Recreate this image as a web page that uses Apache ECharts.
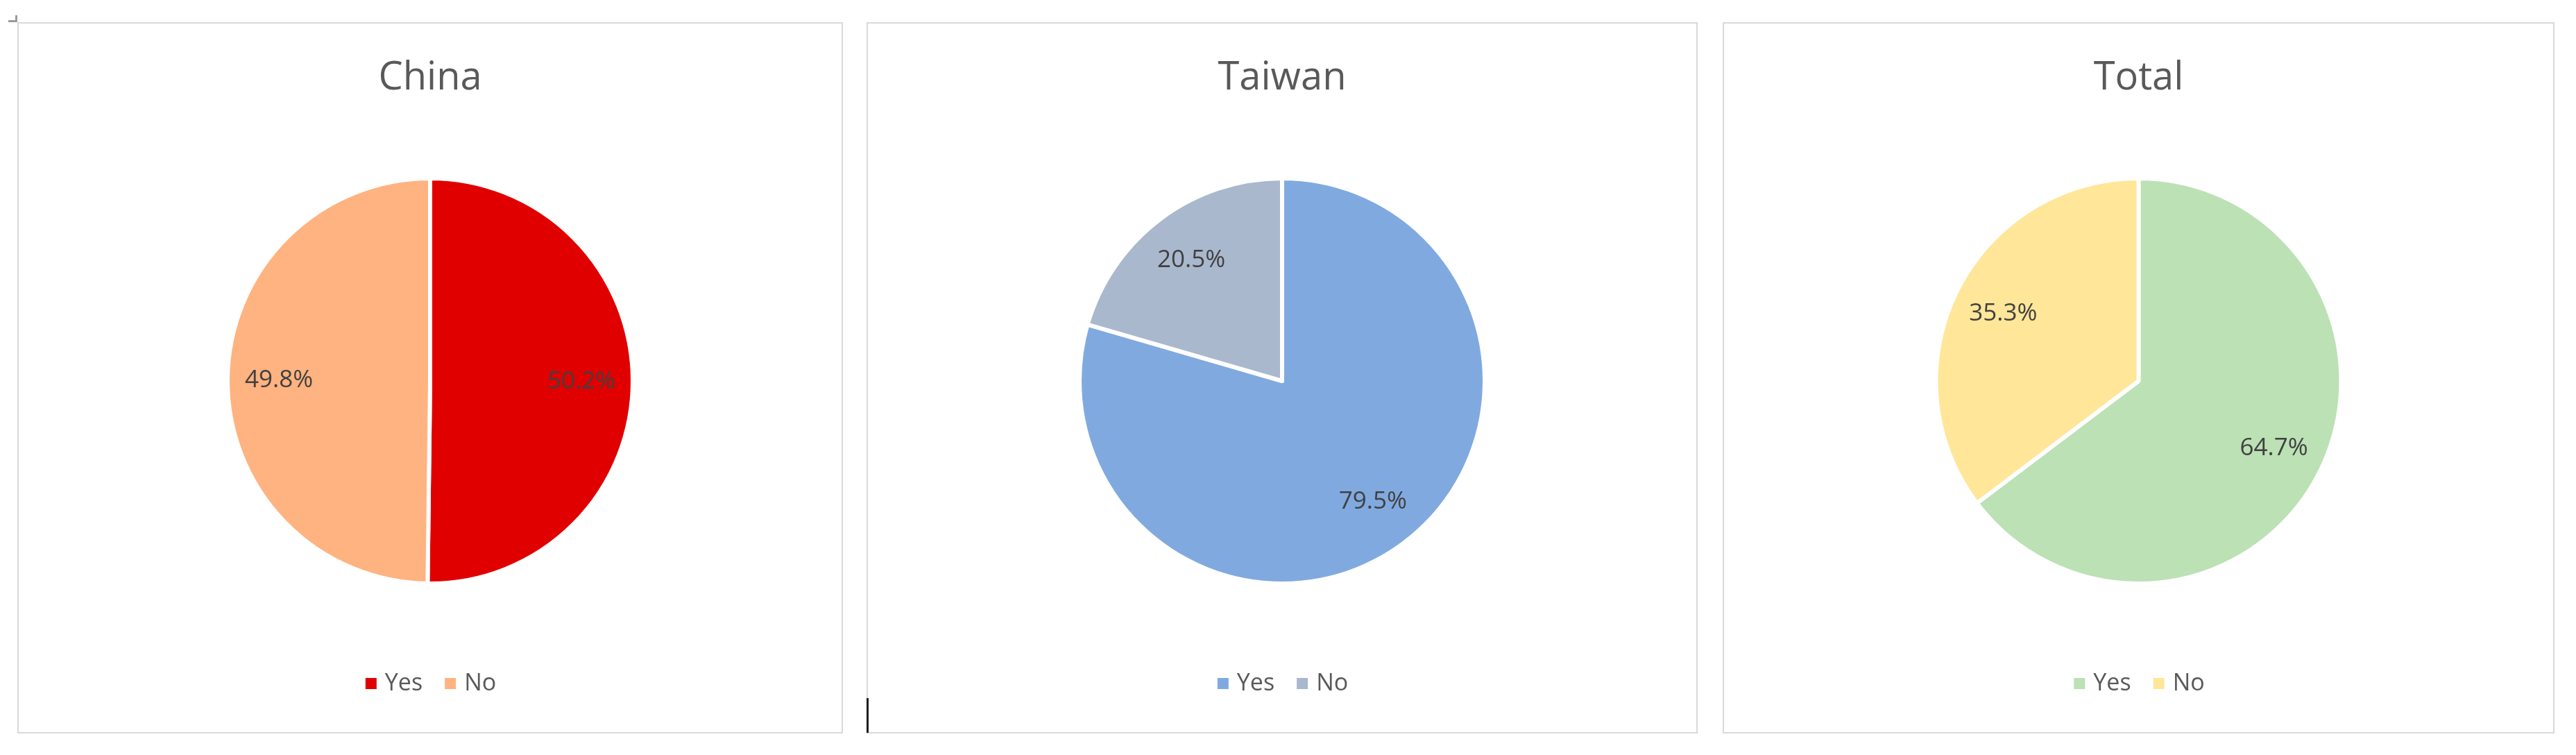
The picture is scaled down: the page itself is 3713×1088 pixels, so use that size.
<!DOCTYPE html>
<html>
<head>
<meta charset="utf-8">
<script src="https://cdn.jsdelivr.net/npm/echarts@6/dist/echarts.min.js"></script>
<style>
    html, body { margin: 0; padding: 0; background: #ffffff; }
    body { width: 3713px; height: 1088px; position: relative; overflow: hidden; }
    .panel { position: absolute; top: 32px; height: 1025px; box-sizing: border-box; border: 2px solid #d9d9d9; background: #fff; }
    .mark { position: absolute; background: #9a9a9a; }
</style>
</head>
<body>
<div class="mark" style="left:12px;top:29px;width:13px;height:3px;"></div>
<div class="mark" style="left:22px;top:22px;width:3px;height:10px;"></div>
<div id="pieChina" class="panel" style="left:25px;width:1190px;"></div>
<div id="pieTaiwan" class="panel" style="left:1249px;width:1198px;"></div>
<div id="pieTotal" class="panel" style="left:2483px;width:1199px;"></div>
<div style="position:absolute;left:1249px;top:1006px;width:3px;height:50px;background:#1e1e1e;"></div>
<script>
    var regions = ['China', 'Taiwan', 'Total'];
    var answers = ['Yes', 'No'];
    // 百分比
    var chinaValues = [50.2, 49.8];
    var taiwanValues = [79.5, 20.5];
    var totalValues = [64.7, 35.3];

    var values = [chinaValues, taiwanValues, totalValues];
    var colorList = [
        ['#E00000', '#FFB380'],
        ['#80AADF', '#A9B8CD'],
        ['#BBE1B4', '#FFE699']
    ];
    var domIds = ['pieChina', 'pieTaiwan', 'pieTotal'];

    var fontFamily = '"Open Sans", "Noto Sans", sans-serif';

    for (var k = 0; k < regions.length; k++) {
        var chart = echarts.init(document.getElementById(domIds[k]));
        var data = [];
        var legendData = [];
        for (var i = 0; i < answers.length; i++) {
            data.push({
                name: answers[i],
                value: values[k][i],
                itemStyle: { color: colorList[k][i] }
            });
            legendData.push({
                name: answers[i],
                itemStyle: { color: colorList[k][i] }
            });
        }
        var option = {
            animation: false,
            title: {
                text: regions[k],
                left: 'center',
                top: 46,
                textStyle: {
                    color: '#595959',
                    fontSize: 56,
                    fontWeight: 'normal',
                    fontFamily: fontFamily
                }
            },
            legend: {
                data: legendData,
                left: 'center',
                top: 929,
                icon: 'rect',
                itemWidth: 18,
                itemHeight: 18,
                itemGap: 30,
                textStyle: {
                    color: '#595959',
                    fontSize: 34,
                    fontFamily: fontFamily,
                    padding: [0, 0, 0, 6]
                }
            },
            series: [
                {
                    type: 'pie',
                    center: ['50%', 515],
                    radius: [0, 292],
                    startAngle: 90,
                    clockwise: true,
                    data: data,
                    label: { show: false },
                    labelLine: { show: false },
                    itemStyle: {
                        borderColor: '#ffffff',
                        borderWidth: 6
                    }
                },
                {
                    // 透明的一层, 只用来放数据标签
                    type: 'pie',
                    center: ['50%', 515],
                    radius: [140, 290],
                    startAngle: 90,
                    clockwise: true,
                    silent: true,
                    legendHoverLink: false,
                    data: data.map(function (d) {
                        return { name: d.name, value: d.value, itemStyle: { color: 'rgba(0,0,0,0)' } };
                    }),
                    label: {
                        show: true,
                        position: 'inside',
                        formatter: function (p) { return p.value.toFixed(1) + '%'; },
                        color: '#404040',
                        fontSize: 35,
                        fontFamily: fontFamily
                    },
                    labelLine: { show: false }
                }
            ]
        };
        chart.setOption(option);
    }
</script>
</body>
</html>
